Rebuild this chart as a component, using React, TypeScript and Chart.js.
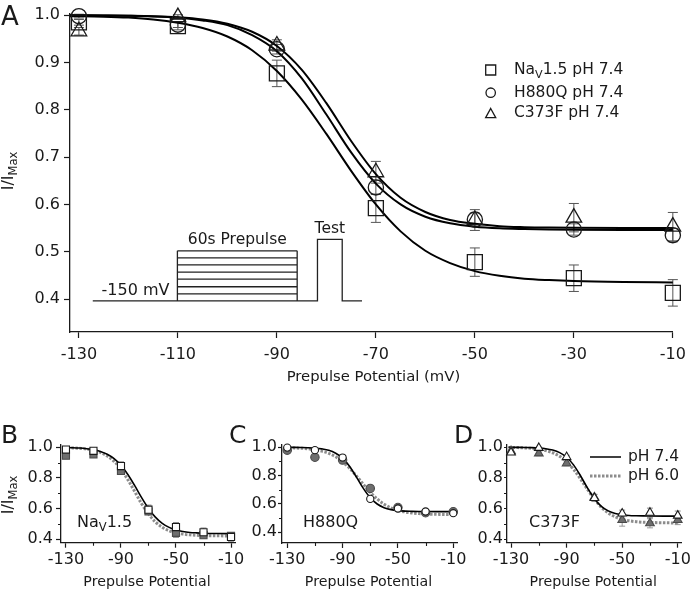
import React, { useEffect, useRef } from 'react';
import { Chart, registerables } from 'chart.js';

Chart.register(...registerables);

const FONT = '"DejaVu Sans", "Liberation Sans", sans-serif';
const INK = '#1a1a1a';

// ---------------- data ----------------
const potentials = [-130, -110, -90, -70, -50, -30, -10];

// Panel A (pH 7.4)
const nav74 = [0.985, 0.977, 0.877, 0.592, 0.478, 0.444, 0.413];
const nav74Err = [0.006, 0.008, 0.028, 0.03, 0.03, 0.028, 0.028];
const h880q74 = [0.998, 0.98, 0.928, 0.636, 0.568, 0.547, 0.535];
const h880q74Err = [0.004, 0.006, 0.01, 0.015, 0.014, 0.012, 0.014];
const c373f74 = [0.966, 0.996, 0.936, 0.668, 0.567, 0.572, 0.553];
const c373f74Err = [0.008, 0.005, 0.012, 0.023, 0.022, 0.03, 0.03];

// pH 6.0 (panels B-D)
const nav60 = [0.945, 0.953, 0.845, 0.58, 0.44, 0.425, 0.42];
const nav60Err = [0.01, 0.012, 0.02, 0.02, 0.03, 0.02, 0.02];
const h880q60 = [0.98, 0.93, 0.91, 0.71, 0.575, 0.538, 0.545];
const h880q60Err = [0.01, 0.01, 0.01, 0.02, 0.015, 0.015, 0.01];
const c373f60 = [0.975, 0.96, 0.895, 0.673, 0.524, 0.503, 0.524];
const c373f60Err = [0.01, 0.015, 0.015, 0.02, 0.04, 0.03, 0.03];

// fitted curves
const fitPotentials = [-131.8, -125, -120, -115, -110, -105, -100, -95, -90, -85, -80, -75, -70, -65, -60, -55, -50, -45, -40, -35, -30, -20, -10];
const navFit74 = [0.998, 0.997, 0.995, 0.991, 0.984, 0.973, 0.955, 0.926, 0.882, 0.822, 0.749, 0.671, 0.6, 0.543, 0.502, 0.476, 0.459, 0.449, 0.443, 0.44, 0.438, 0.436, 0.435];
const h880qFit74 = [1.0, 0.9994, 0.9987, 0.9974, 0.9947, 0.989, 0.979, 0.958, 0.924, 0.867, 0.79, 0.71, 0.644, 0.6, 0.574, 0.56, 0.553, 0.5495, 0.548, 0.547, 0.5465, 0.546, 0.546];
const c373fFit74 = [1.0, 0.9995, 0.999, 0.998, 0.9956, 0.991, 0.982, 0.965, 0.935, 0.885, 0.814, 0.734, 0.664, 0.614, 0.584, 0.567, 0.559, 0.554, 0.552, 0.551, 0.5505, 0.55, 0.55];
const navFit60 = [0.998, 0.996, 0.9933, 0.989, 0.98, 0.967, 0.943, 0.908, 0.856, 0.788, 0.71, 0.631, 0.564, 0.512, 0.477, 0.454, 0.44, 0.432, 0.427, 0.424, 0.422, 0.4207, 0.42];
const h880qFit60 = [0.998, 0.996, 0.9936, 0.99, 0.983, 0.973, 0.957, 0.933, 0.898, 0.853, 0.798, 0.739, 0.683, 0.635, 0.598, 0.572, 0.555, 0.544, 0.5365, 0.532, 0.529, 0.5266, 0.5256];
const c373fFit60 = [0.999, 0.998, 0.996, 0.993, 0.988, 0.979, 0.964, 0.941, 0.905, 0.856, 0.793, 0.725, 0.661, 0.608, 0.57, 0.545, 0.528, 0.519, 0.513, 0.5096, 0.508, 0.506, 0.505];

// ticks
const xTicksA = [-130, -110, -90, -70, -50, -30, -10];
const xTickLabelsA = ['-130', '-110', '-90', '-70', '-50', '-30', '-10'];
const yTicksA = [0.4, 0.5, 0.6, 0.7, 0.8, 0.9, 1.0];
const yTickLabelsA = ['0.4', '0.5', '0.6', '0.7', '0.8', '0.9', '1.0'];
const xTicksSmall = [-130, -90, -50, -10];
const xTickLabelsSmall = ['-130', '-90', '-50', '-10'];
const xMinorSmall = [-110, -70, -30];
const yTicksSmall = [0.4, 0.6, 0.8, 1.0];
const yTickLabelsSmall = ['0.4', '0.6', '0.8', '1.0'];
const yMinorSmall = [0.5, 0.7, 0.9];

// voltage-protocol schematic (drawn in panel A's data units)
const protoStartV = -127.2;
const protoPreOnV = -110.1;
const protoPreOffV = -85.9;
const protoTestOnV = -81.8;
const protoTestOffV = -76.8;
const protoEndV = -72.8;
const protoLevels = [0.396, 0.411, 0.426, 0.442, 0.457, 0.472, 0.487, 0.502];
const protoTestLevel = 0.526;

// ---------------- helpers ----------------
type Rect = { left: number; top: number; width: number; height: number };
type Area = { left: number; top: number; right: number; bottom: number };
type Part = { t: string; sub?: boolean };

const TICK_SIZE = 16;

const pts = (xs: number[], ys: number[]) => xs.map((x, i) => ({ x, y: ys[i] }));

function lineDs(ys: number[], color: string, width: number, dash: number[], order: number) {
  return {
    data: pts(fitPotentials, ys),
    showLine: true,
    borderColor: color,
    borderWidth: width,
    borderDash: dash,
    pointRadius: 0,
    fill: false,
    cubicInterpolationMode: 'monotone',
    order,
    clip: false,
  };
}

function markerDs(ys: number[], style: string, radius: number, fill: string, stroke: string, lw: number, order: number) {
  return {
    data: pts(potentials, ys),
    showLine: false,
    pointStyle: style,
    pointRadius: radius,
    pointBackgroundColor: fill,
    pointBorderColor: stroke,
    pointBorderWidth: lw,
    order,
    clip: false,
  };
}

function drawRich(ctx: CanvasRenderingContext2D, parts: Part[], x: number, y: number, size: number, align: 'left' | 'center', color = INK) {
  const subSize = size * 0.72;
  let w = 0;
  parts.forEach((p) => {
    ctx.font = `${p.sub ? subSize : size}px ${FONT}`;
    w += ctx.measureText(p.t).width;
  });
  let cx = align === 'center' ? x - w / 2 : x;
  ctx.fillStyle = color;
  ctx.textAlign = 'left';
  ctx.textBaseline = 'middle';
  parts.forEach((p) => {
    ctx.font = `${p.sub ? subSize : size}px ${FONT}`;
    ctx.fillText(p.t, cx, y + (p.sub ? size * 0.32 : 0));
    cx += ctx.measureText(p.t).width;
  });
}

function drawErrorBars(chart: any, ys: number[], errs: number[], color: string, capHalf: number, lw: number) {
  const { ctx, scales } = chart;
  const x = scales.x;
  const y = scales.y;
  ctx.save();
  ctx.strokeStyle = color;
  ctx.lineWidth = lw;
  potentials.forEach((v, i) => {
    const px = x.getPixelForValue(v);
    const top = y.getPixelForValue(ys[i] + errs[i]);
    const bot = y.getPixelForValue(ys[i] - errs[i]);
    ctx.beginPath();
    ctx.moveTo(px, top);
    ctx.lineTo(px, bot);
    ctx.moveTo(px - capHalf, top);
    ctx.lineTo(px + capHalf, top);
    ctx.moveTo(px - capHalf, bot);
    ctx.lineTo(px + capHalf, bot);
    ctx.stroke();
  });
  ctx.restore();
}

function drawShape(ctx: CanvasRenderingContext2D, kind: string, x: number, y: number, s: number) {
  ctx.beginPath();
  if (kind === 'rect') ctx.rect(x - s, y - s, 2 * s, 2 * s);
  else if (kind === 'circle') ctx.arc(x, y, s, 0, Math.PI * 2);
  else {
    ctx.moveTo(x, y - s * 1.05);
    ctx.lineTo(x + s * 1.05, y + s * 0.85);
    ctx.lineTo(x - s * 1.05, y + s * 0.85);
    ctx.closePath();
  }
  ctx.stroke();
}

function drawYTitle(ctx: CanvasRenderingContext2D, cx: number, cy: number) {
  ctx.save();
  ctx.translate(cx, cy);
  ctx.rotate(-Math.PI / 2);
  drawRich(ctx, [{ t: 'I/I' }, { t: 'Max', sub: true }], 0, 0, 16, 'center');
  ctx.restore();
}

function drawMinorTicks(chart: any, xs: number[], ys: number[], len: number) {
  const { ctx, scales, chartArea } = chart;
  ctx.save();
  ctx.strokeStyle = INK;
  ctx.lineWidth = 1.1;
  ctx.beginPath();
  xs.forEach((v) => {
    const px = Math.round(scales.x.getPixelForValue(v)) + 0.5;
    ctx.moveTo(px, chartArea.bottom);
    ctx.lineTo(px, chartArea.bottom + len);
  });
  ys.forEach((v) => {
    const py = Math.round(scales.y.getPixelForValue(v)) + 0.5;
    ctx.moveTo(chartArea.left, py);
    ctx.lineTo(chartArea.left - len, py);
  });
  ctx.stroke();
  ctx.restore();
}

type Spec = {
  canvas: Rect;
  area: Area;
  xMin: number;
  xMax: number;
  yMin: number;
  yMax: number;
  xTicks: number[];
  xLabels: string[];
  yTicks: number[];
  yLabels: string[];
  xTickLen: number;
  xTickPad: number;
  yTickLen: number;
  yTickPad: number;
  datasets: any[];
  plugin: any;
};

function buildConfig(s: Spec): any {
  const padding = {
    left: 0,
    top: s.area.top - s.canvas.top,
    right: s.canvas.left + s.canvas.width - s.area.right,
    bottom: 0,
  };
  const yWidth = s.area.left - s.canvas.left;
  const xHeight = s.canvas.top + s.canvas.height - s.area.bottom;
  const tickFont = { family: FONT, size: TICK_SIZE };
  return {
    type: 'scatter',
    data: { datasets: s.datasets },
    options: {
      animation: false,
      responsive: false,
      maintainAspectRatio: false,
      events: [],
      layout: { padding },
      plugins: { legend: { display: false }, tooltip: { enabled: false }, title: { display: false } },
      scales: {
        x: {
          type: 'linear',
          min: s.xMin,
          max: s.xMax,
          afterBuildTicks: (sc: any) => {
            sc.ticks = s.xTicks.map((v) => ({ value: v }));
          },
          afterFit: (sc: any) => {
            sc.height = xHeight;
          },
          ticks: {
            callback: (_v: any, i: number) => s.xLabels[i],
            font: tickFont,
            color: INK,
            padding: s.xTickPad,
            maxRotation: 0,
            autoSkip: false,
          },
          grid: { display: true, drawOnChartArea: false, drawTicks: true, tickLength: s.xTickLen, tickColor: INK, tickWidth: 1.2 },
          border: { display: true, color: INK, width: 1.3 },
        },
        y: {
          type: 'linear',
          min: s.yMin,
          max: s.yMax,
          afterBuildTicks: (sc: any) => {
            sc.ticks = s.yTicks.map((v) => ({ value: v }));
          },
          afterFit: (sc: any) => {
            sc.width = yWidth;
          },
          ticks: {
            callback: (_v: any, i: number) => s.yLabels[i],
            font: tickFont,
            color: INK,
            padding: s.yTickPad,
            autoSkip: false,
          },
          grid: { display: true, drawOnChartArea: false, drawTicks: true, tickLength: s.yTickLen, tickColor: INK, tickWidth: 1.2 },
          border: { display: true, color: INK, width: 1.3 },
        },
      },
    },
    plugins: [s.plugin],
  };
}

function ChartCanvas({ spec }: { spec: Spec }) {
  const ref = useRef<HTMLCanvasElement>(null);
  useEffect(() => {
    const chart = new Chart(ref.current as HTMLCanvasElement, buildConfig(spec));
    return () => chart.destroy();
  }, []);
  const r = spec.canvas;
  return (
    <canvas
      ref={ref}
      width={r.width}
      height={r.height}
      style={{ position: 'absolute', left: r.left, top: r.top, width: r.width, height: r.height }}
    />
  );
}

// ---------------- panel A ----------------
const canvasA: Rect = { left: 0, top: 0, width: 693, height: 395 };
const areaA: Area = { left: 70, top: 13.4, right: 677, bottom: 332 };

const pluginA = {
  id: 'panelA',
  beforeDatasetsDraw(chart: any) {
    const { ctx, scales } = chart;
    const X = (v: number) => scales.x.getPixelForValue(v);
    const Y = (v: number) => scales.y.getPixelForValue(v);
    drawErrorBars(chart, nav74, nav74Err, '#555', 5, 1);
    drawErrorBars(chart, h880q74, h880q74Err, '#555', 5, 1);
    drawErrorBars(chart, c373f74, c373f74Err, '#555', 5, 1);
    // protocol schematic
    ctx.save();
    ctx.strokeStyle = '#222';
    ctx.lineWidth = 1.3;
    ctx.beginPath();
    const base = protoLevels[0];
    const topL = protoLevels[protoLevels.length - 1];
    ctx.moveTo(X(protoStartV), Y(base));
    ctx.lineTo(X(protoTestOnV), Y(base));
    ctx.lineTo(X(protoTestOnV), Y(protoTestLevel));
    ctx.lineTo(X(protoTestOffV), Y(protoTestLevel));
    ctx.lineTo(X(protoTestOffV), Y(base));
    ctx.lineTo(X(protoEndV), Y(base));
    protoLevels.forEach((l) => {
      ctx.moveTo(X(protoPreOnV), Y(l));
      ctx.lineTo(X(protoPreOffV), Y(l));
    });
    ctx.moveTo(X(protoPreOnV), Y(base));
    ctx.lineTo(X(protoPreOnV), Y(topL));
    ctx.moveTo(X(protoPreOffV), Y(base));
    ctx.lineTo(X(protoPreOffV), Y(topL));
    ctx.stroke();
    ctx.restore();
    ctx.save();
    ctx.fillStyle = INK;
    ctx.font = `16px ${FONT}`;
    ctx.textBaseline = 'middle';
    ctx.textAlign = 'right';
    ctx.fillText('-150 mV', X(-111.7), Y(0.417));
    ctx.textAlign = 'center';
    ctx.font = `15.5px ${FONT}`;
    ctx.fillText('60s Prepulse', X((protoPreOnV + protoPreOffV) / 2), Y(0.525));
    ctx.fillText('Test', X((protoTestOnV + protoTestOffV) / 2), Y(0.549));
    ctx.restore();
  },
  afterDraw(chart: any) {
    const { ctx, chartArea } = chart;
    ctx.save();
    // panel letter
    ctx.fillStyle = INK;
    ctx.font = `26px ${FONT}`;
    ctx.textAlign = 'left';
    ctx.textBaseline = 'alphabetic';
    ctx.fillText('A', 1, 25);
    // axis titles
    ctx.font = `14.8px ${FONT}`;
    ctx.textAlign = 'center';
    ctx.textBaseline = 'middle';
    ctx.fillText('Prepulse Potential (mV)', (chartArea.left + chartArea.right) / 2 + 2, 377);
    drawYTitle(ctx, 9, 171);
    // legend
    ctx.strokeStyle = INK;
    ctx.lineWidth = 1.3;
    drawShape(ctx, 'rect', 490.7, 70, 5);
    drawShape(ctx, 'circle', 490.7, 92.7, 4.7);
    drawShape(ctx, 'tri', 490.7, 113.5, 4.8);
    drawRich(ctx, [{ t: 'Na' }, { t: 'V', sub: true }, { t: '1.5 pH 7.4' }], 514, 70, 15.5, 'left');
    drawRich(ctx, [{ t: 'H880Q pH 7.4' }], 514, 92.7, 15.5, 'left');
    drawRich(ctx, [{ t: 'C373F pH 7.4' }], 514, 113.3, 15.5, 'left');
    ctx.restore();
  },
};

const specA: Spec = {
  canvas: canvasA,
  area: areaA,
  xMin: -131.8,
  xMax: -10,
  yMin: 0.3303,
  yMax: 1.0034,
  xTicks: xTicksA,
  xLabels: xTickLabelsA,
  yTicks: yTicksA,
  yLabels: yTickLabelsA,
  xTickLen: 6,
  xTickPad: 7.1,
  yTickLen: 6,
  yTickPad: 4,
  datasets: [
    markerDs(nav74, 'rect', 10.6, 'rgba(0,0,0,0)', INK, 1.3, 0),
    markerDs(h880q74, 'circle', 7.6, 'rgba(0,0,0,0)', INK, 1.3, 0),
    markerDs(c373f74, 'triangle', 9, 'rgba(0,0,0,0)', INK, 1.3, 0),
    lineDs(navFit74, '#000', 2, [], 1),
    lineDs(h880qFit74, '#000', 2, [], 1),
    lineDs(c373fFit74, '#000', 2, [], 1),
  ],
  plugin: pluginA,
};

// ---------------- small panels ----------------
function smallPlugin(id: string, letter: string, letterX: number, name: Part[], nameX: number, ys74: number[], errs74: number[], ys60: number[], errs60: number[], offset: { x: number; y: number }, withYTitle: boolean, withLegend: boolean) {
  return {
    id,
    beforeDatasetsDraw(chart: any) {
      drawErrorBars(chart, ys60, errs60, '#9a9a9a', 3, 1);
      drawErrorBars(chart, ys74, errs74, '#8a8a8a', 3, 1);
    },
    afterDraw(chart: any) {
      const { ctx, chartArea } = chart;
      drawMinorTicks(chart, xMinorSmall, yMinorSmall, 3);
      ctx.save();
      ctx.fillStyle = INK;
      ctx.font = `25px ${FONT}`;
      ctx.textAlign = 'left';
      ctx.textBaseline = 'alphabetic';
      ctx.fillText(letter, letterX - offset.x, 442.5 - offset.y);
      ctx.font = `14.2px ${FONT}`;
      ctx.textAlign = 'center';
      ctx.textBaseline = 'middle';
      ctx.fillText('Prepulse Potential', (chartArea.left + chartArea.right) / 2 - 1, 582 - offset.y);
      drawRich(ctx, name, nameX - offset.x, 523 - offset.y, 16, 'left');
      if (withYTitle) drawYTitle(ctx, 9 - offset.x, 495 - offset.y);
      if (withLegend) {
        ctx.lineWidth = 1.5;
        ctx.strokeStyle = '#000';
        ctx.beginPath();
        ctx.moveTo(590 - offset.x, 457 - offset.y);
        ctx.lineTo(621 - offset.x, 457 - offset.y);
        ctx.stroke();
        ctx.lineWidth = 3;
        ctx.strokeStyle = '#8c8c8c';
        ctx.setLineDash([2.5, 1.5]);
        ctx.beginPath();
        ctx.moveTo(590 - offset.x, 476 - offset.y);
        ctx.lineTo(621 - offset.x, 476 - offset.y);
        ctx.stroke();
        ctx.setLineDash([]);
        drawRich(ctx, [{ t: 'pH 7.4' }], 628 - offset.x, 457 - offset.y, 15.5, 'left');
        drawRich(ctx, [{ t: 'pH 6.0' }], 628 - offset.x, 476 - offset.y, 15.5, 'left');
      }
      ctx.restore();
    },
  };
}

const canvasB: Rect = { left: 0, top: 415, width: 255, height: 178 };
const canvasC: Rect = { left: 225, top: 415, width: 255, height: 178 };
const canvasD: Rect = { left: 450, top: 415, width: 255, height: 178 };

const specB: Spec = {
  canvas: canvasB,
  area: { left: 61, top: 444.2, right: 235, bottom: 542.7 },
  xMin: -133.6,
  xMax: -7.1,
  yMin: 0.3758,
  yMax: 1.0203,
  xTicks: xTicksSmall,
  xLabels: xTickLabelsSmall,
  yTicks: yTicksSmall,
  yLabels: yTickLabelsSmall,
  xTickLen: 5,
  xTickPad: 2.4,
  yTickLen: 5,
  yTickPad: 3,
  datasets: [
    markerDs(nav74, 'rect', 5, '#ffffff', INK, 1.1, 0),
    markerDs(nav60, 'rect', 5, '#6e6e6e', '#4a4a4a', 1.1, 1),
    lineDs(navFit74, '#000', 1.6, [], 2),
    lineDs(navFit60, '#8c8c8c', 3, [2.5, 1.5], 3),
  ],
  plugin: smallPlugin('pB', 'B', 1, [{ t: 'Na' }, { t: 'V', sub: true }, { t: '1.5' }], 77, nav74, nav74Err, nav60, nav60Err, { x: canvasB.left, y: canvasB.top }, true, false),
};

const specC: Spec = {
  canvas: canvasC,
  area: { left: 282, top: 444.5, right: 457, bottom: 543 },
  xMin: -133.8,
  xMax: -7.3,
  yMin: 0.3245,
  yMax: 1.02,
  xTicks: xTicksSmall,
  xLabels: xTickLabelsSmall,
  yTicks: yTicksSmall,
  yLabels: yTickLabelsSmall,
  xTickLen: 5,
  xTickPad: 2.4,
  yTickLen: 4,
  yTickPad: 1,
  datasets: [
    markerDs(h880q74, 'circle', 3.6, '#ffffff', INK, 1.1, 0),
    markerDs(h880q60, 'circle', 4.2, '#6e6e6e', '#4a4a4a', 1.1, 1),
    lineDs(h880qFit74, '#000', 1.6, [], 2),
    lineDs(h880qFit60, '#8c8c8c', 3, [2.5, 1.5], 3),
  ],
  plugin: smallPlugin('pC', 'C', 229, [{ t: 'H880Q' }], 303, h880q74, h880q74Err, h880q60, h880q60Err, { x: canvasC.left, y: canvasC.top }, false, false),
};

const specD: Spec = {
  canvas: canvasD,
  area: { left: 507, top: 444.2, right: 681.5, bottom: 542.7 },
  xMin: -132.9,
  xMax: -7.3,
  yMin: 0.3758,
  yMax: 1.0203,
  xTicks: xTicksSmall,
  xLabels: xTickLabelsSmall,
  yTicks: yTicksSmall,
  yLabels: yTickLabelsSmall,
  xTickLen: 5,
  xTickPad: 2.4,
  yTickLen: 3,
  yTickPad: 1,
  datasets: [
    markerDs(c373f74, 'triangle', 5, '#ffffff', INK, 1.1, 0),
    markerDs(c373f60, 'triangle', 5, '#6e6e6e', '#4a4a4a', 1.1, 1),
    lineDs(c373fFit74, '#000', 1.6, [], 2),
    lineDs(c373fFit60, '#8c8c8c', 3, [2.5, 1.5], 3),
  ],
  plugin: smallPlugin('pD', 'D', 454, [{ t: 'C373F' }], 529, c373f74, c373f74Err, c373f60, c373f60Err, { x: canvasD.left, y: canvasD.top }, false, true),
};

export default function App() {
  return (
    <div style={{ position: 'fixed', left: 0, top: 0, width: 693, height: 593, background: '#fff', overflow: 'hidden' }}>
      <ChartCanvas spec={specA} />
      <ChartCanvas spec={specB} />
      <ChartCanvas spec={specC} />
      <ChartCanvas spec={specD} />
    </div>
  );
}
